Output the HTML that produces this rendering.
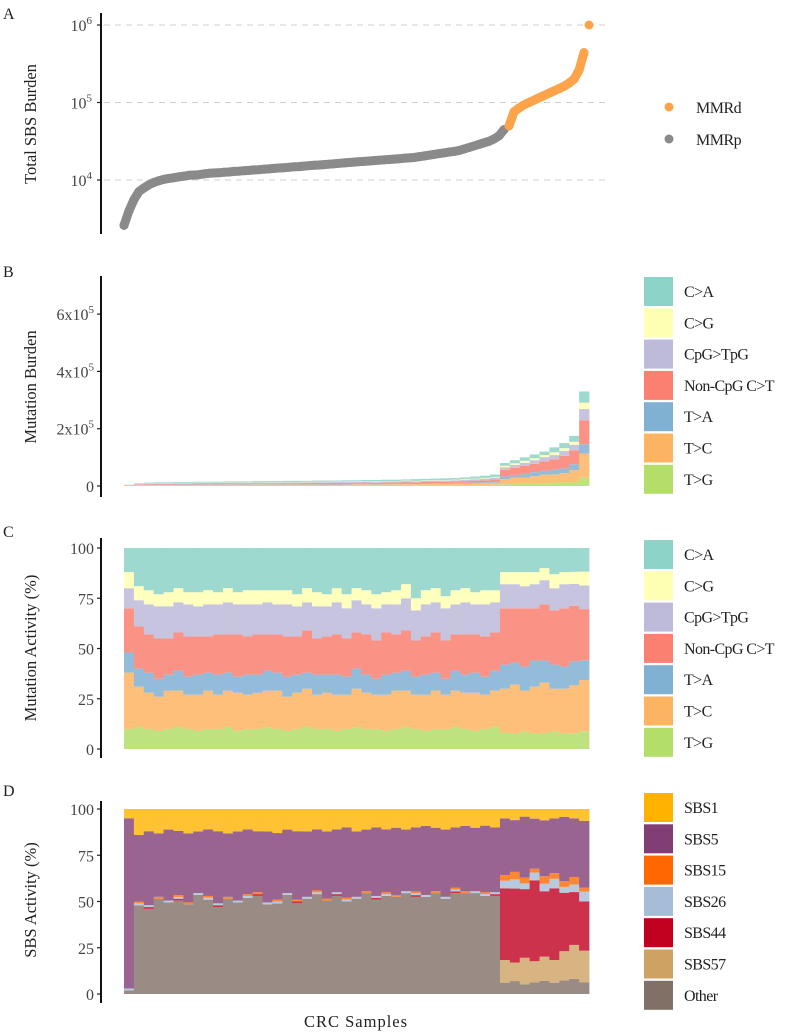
<!DOCTYPE html>
<html><head><meta charset="utf-8"><style>
html,body{margin:0;padding:0;background:#fff;}
svg{display:block;font-family:"Liberation Serif",serif;}
</style></head><body>
<svg id="fig" width="787" height="1032" viewBox="0 0 787 1032" xmlns="http://www.w3.org/2000/svg">
<g id="static" fill="#222" font-size="16">
<text x="3" y="19">A</text>
<text x="3" y="277">B</text>
<text x="3" y="537">C</text>
<text x="3" y="796">D</text>
<text transform="translate(36,124) rotate(-90)" text-anchor="middle" font-size="16.5">Total SBS Burden</text>
<text transform="translate(36,387) rotate(-90)" text-anchor="middle" font-size="16.5">Mutation Burden</text>
<text transform="translate(36,648) rotate(-90)" text-anchor="middle" font-size="16.5">Mutation Activity (%)</text>
<text transform="translate(36,900) rotate(-90)" text-anchor="middle" font-size="16.5">SBS Activity (%)</text>
<text x="356" y="1027" text-anchor="middle" font-size="16.5" letter-spacing="1">CRC Samples</text>
</g>
<g id="dyn"></g>
</svg>
<script>
// Panel A: sorted total SBS burden (thousands)
const burdenK = [2.6,4.0,5.6,7.1,7.9,8.7,9.3,9.8,10.2,10.5,10.7,11.0,11.2,11.5,11.6,11.7,12.0,12.2,12.3,12.4,
12.6,12.7,12.9,13.0,13.2,13.3,13.5,13.6,13.8,13.9,14.1,14.3,14.4,14.6,14.8,14.9,15.1,15.3,15.5,15.6,15.8,
16.0,16.2,16.4,16.6,16.8,17.0,17.2,17.4,17.6,17.8,18.0,18.2,18.4,18.6,18.8,19.1,19.3,19.5,
20.0,20.4,20.9,21.4,21.9,22.4,22.9,23.4,24.0,25.1,
26.3,27.5,28.8,30.2,31.6,33.9,37.2,44.7,
50.1,75.9,85.1,93.3,100,107,115,123,132,141,151,162,178,200,260,440,1000];
const burdenGroup = burdenK.map((v,i)=> i>=77 ? 'MMRd' : 'MMRp');
const aTickLabels = ['4','5','6'];
// Panel B: total mutation burden per sample (thousands)
const mutTotalK = [5,10,12,13,13,14,14,15,15,15,16,16,16,17,17,17,18,18,18,19,19,19,20,20,21,21,22,22,23,24,25,26,27,28,30,33,36,40,
80,90,100,110,120,135,150,175,330];
const bTickLabels = ['0','2','4','6'];
// Panel C: mutation class activity (%)
const mutClasses = ['C>A','C>G','CpG>TpG','Non-CpG C>T','T>A','T>C','T>G'];
const pctCA = [12,19,21,23,22,20,22,22,21,22,20,22,21,21,21,21,21,23,20,22,23,20,23,20,21,23,22,21,18,25,21,20,24,21,20,22,21,21,12,12,12,12,10,13,12,12,12];
const pctCG = [8,7,7,6,7,7,6,7,7,6,7,6,7,7,6,7,7,6,7,7,6,7,7,6,7,7,6,7,7,6,7,7,6,7,7,6,7,6,6,6,7,6,6,7,6,6,7];
const pctCpG = [10,13,15,16,16,15,16,15,16,15,16,15,16,15,16,15,16,15,14,16,15,16,15,16,15,16,14,15,16,15,16,15,16,15,16,15,16,15,12,12,11,12,12,11,12,11,12];
const pctNonCpG = [22,21,19,20,18,19,20,19,18,20,19,21,19,20,18,19,20,19,21,18,19,20,19,18,20,19,21,19,20,18,19,20,19,18,20,19,20,19,28,27,29,26,28,27,29,28,26];
const pctTA = [10,9,10,9,8,10,9,10,9,10,9,8,10,9,10,9,10,9,8,10,9,10,9,10,9,8,10,9,10,9,10,9,8,10,9,10,9,10,12,11,12,13,11,12,11,12,10];
const pctTC = [28,20,18,17,19,18,17,18,19,17,18,19,17,18,18,19,17,18,19,17,18,18,17,19,18,17,18,19,18,17,18,19,17,18,18,19,17,18,22,24,20,23,25,21,22,24,26];
const pctTG = [10,11,10,9,10,11,10,9,10,10,11,9,10,10,11,10,9,10,11,10,10,9,10,11,10,10,9,10,11,10,9,10,10,11,10,9,10,11,8,8,9,8,8,9,8,8,9];
const cTickLabels = ['0','25','50','75','100'];
// Panel D: SBS signature activity (%)
const sigNames = ['SBS1','SBS5','SBS15','SBS26','SBS44','SBS57','Other'];
const sbs1 = [5,14,12,13,11,12,13,12,11,12,13,12,11,12,12,13,11,12,12,11,12,11,10,12,11,10,11,10,11,10,9,10,11,10,9,10,9,10,5,6,4,5,6,5,4,5,6];
const sbs5 = [92,36,40,34,38,35,37,33,36,39,34,37,35,33,38,36,34,37,35,33,36,34,38,35,33,37,34,36,33,35,37,34,36,33,35,34,36,35,30,28,32,26,30,29,33,31,34];
const sbs15 = [0,1,0,1,0,1,1,0,1,0,1,0,1,1,0,1,0,1,0,1,1,0,1,0,1,0,1,1,0,1,0,1,0,1,1,0,1,0,3,4,3,2,4,3,3,4,2];
const sbs26 = [1,1,1,0,1,1,0,1,1,1,0,1,1,0,1,1,1,0,1,1,0,1,1,1,0,1,1,0,1,1,1,0,1,1,0,1,1,1,4,5,3,4,4,5,3,4,5];
const sbs44 = [0,0,1,0,0,1,0,0,0,1,0,0,0,1,0,0,0,1,0,0,0,1,0,0,0,1,0,0,0,1,0,0,0,1,0,0,0,1,38,40,36,42,35,38,30,28,25];
const sbs57 = [0,0,0,0,0,0,0,0,0,0,0,0,0,0,0,0,0,0,0,0,0,0,0,0,0,0,0,0,0,0,0,0,0,0,0,0,0,0,12,10,14,11,13,12,15,18,16];
const sbsOther = [2,48,46,51,49,51,48,53,51,47,51,49,52,53,48,49,53,49,51,54,50,53,50,51,54,51,53,52,54,53,52,54,51,55,54,54,53,53,6,7,5,6,7,6,7,8,6];

const NS='http://www.w3.org/2000/svg';
const dyn=document.getElementById('dyn');
function mk(tag,attrs,parent){const e=document.createElementNS(NS,tag);for(const k in attrs)e.setAttribute(k,attrs[k]);(parent||dyn).appendChild(e);return e;}
const X0=124,X1=589;
// ---------- Panel A ----------
const yA=v=>180-(Math.log10(v*1000)-4)*77.5;
const xA=i=>X0+i*(X1-X0)/(burdenK.length-1);
aTickLabels.forEach(p=>{
  const y=yA(Math.pow(10,+p)/1000);
  const g=mk('line',{x1:104,x2:610,y1:y,y2:y,stroke:'#cfcfcf','stroke-dasharray':'6,5','stroke-width':1});
  
  
  const tk=mk('line',{x1:97,x2:101,y1:y,y2:y,stroke:'#222','stroke-width':1.2});
  
  
  const t=mk('text',{x:92,y:y+6,'text-anchor':'end','font-size':16,fill:'#444'});
  
  
  t.textContent='10';
  const s=mk('tspan',{dy:-7,'font-size':11},t);s.textContent=p;
});
const axA=mk('line',{x1:101,x2:101,y1:13,y2:234,stroke:'#111','stroke-width':2});


// continuous dense trace through points (excluding top outlier)
['MMRp','MMRd'].forEach(grp=>{
  const pts=[];
  burdenK.forEach((v,i)=>{ if(burdenGroup[i]===grp && v<900) pts.push(xA(i).toFixed(1)+','+yA(v).toFixed(1)); });
  const pl=mk('polyline',{points:pts.join(' '),fill:'none',stroke:grp==='MMRd'?'#fda34a':'#8a8a8a','stroke-width':9,'stroke-linecap':'round','stroke-linejoin':'round'});
  
  
});
burdenK.forEach((v,i)=>{
  const c=mk('circle',{cx:xA(i),cy:yA(v),r:4.5,fill:burdenGroup[i]==='MMRd'?'#fda34a':'#8a8a8a'});
  
  
});
[['MMRd','#fda34a',107],['MMRp','#8a8a8a',139]].forEach(([n,col,y])=>{
  const c=mk('circle',{cx:669,cy:y,r:4.5,fill:col});
  
  
  const t=mk('text',{x:696,y:y+6,'font-size':16,fill:'#222','letter-spacing':'-0.5'});
  
  
  t.textContent=n;
});
// ---------- shared ----------
const bw=(X1-X0)/mutTotalK.length;
const mutCols=['#8dd3c7','#ffffb3','#bebada','#fb8072','#80b1d3','#fdb462','#b3de69'];
const mutSeries=[pctCA,pctCG,pctCpG,pctNonCpG,pctTA,pctTC,pctTG];
function legend(names,cols,top,prefix){
  names.forEach((n,k)=>{
    const y=top+k*31.3;
    const r=mk('rect',{x:644,y:y,width:29,height:29,fill:cols[k]});
    
    
    const t=mk('text',{x:684,y:y+20,'font-size':16,fill:'#222','letter-spacing':'-0.6'});
    
    
    t.textContent=n;
  });
}
function yaxis(top,bot,name){
  const a=mk('line',{x1:101,x2:101,y1:top,y2:bot,stroke:'#111','stroke-width':2});
  
  
}
function grp(op,name){const g=mk('g',{opacity:op});return g;}
// ---------- Panel B ----------
const yB=v=>486-v/200*57.3;
bTickLabels.forEach(p=>{
  const y=yB(+p*100);
  const tk=mk('line',{x1:97,x2:101,y1:y,y2:y,stroke:'#222','stroke-width':1.2});
  
  
  const t=mk('text',{x:94,y:y+6,'text-anchor':'end','font-size':16,fill:'#444'});
  
  
  if(p==='0'){t.textContent='0';}else{t.textContent=p+'x10';const s=mk('tspan',{dy:-7,'font-size':11},t);s.textContent='5';}
});
yaxis(276,497,'y-axis-b');
const gB=grp(0.85,'stacked-area-b');
mutTotalK.forEach((tot,i)=>{
  let sum=0;mutSeries.forEach(s=>sum+=s[i]);
  let base=0;
  for(let k=mutSeries.length-1;k>=0;k--){
    const v=tot*mutSeries[k][i]/sum;
    const r=mk('rect',{x:X0+i*bw,y:yB(base+v),width:bw+0.4,height:Math.max(0,yB(base)-yB(base+v)),fill:mutCols[k]},gB);
    
    
    base+=v;
  }
});
legend(mutClasses,mutCols,277,'b');
// ---------- Panel C ----------
const yC=p=>749-p*2.01;
cTickLabels.forEach(p=>{
  const y=yC(+p);
  const tk=mk('line',{x1:97,x2:101,y1:y,y2:y,stroke:'#222','stroke-width':1.2});
  
  
  const t=mk('text',{x:94,y:y+6,'text-anchor':'end','font-size':16,fill:'#444'});
  
  
  t.textContent=p;
});
yaxis(538,758,'y-axis-c');
const gC=grp(0.85,'stacked-bars-c');
pctCA.forEach((_,i)=>{
  let sum=0;mutSeries.forEach(s=>sum+=s[i]);
  let base=0;
  for(let k=mutSeries.length-1;k>=0;k--){
    const v=100*mutSeries[k][i]/sum;
    const r=mk('rect',{x:X0+i*bw,y:yC(base+v),width:bw+0.4,height:yC(base)-yC(base+v),fill:mutCols[k]},gC);
    
    
    base+=v;
  }
});
legend(mutClasses,mutCols,540,'c');
// ---------- Panel D ----------
const sigCols=['#ffb300','#803e75','#ff6800','#a6bdd7','#c10020','#cea262','#817066'];
const sigSeries=[sbs1,sbs5,sbs15,sbs26,sbs44,sbs57,sbsOther];
const yD=p=>994-p*1.85;
cTickLabels.forEach(p=>{
  const y=yD(+p);
  const tk=mk('line',{x1:97,x2:101,y1:y,y2:y,stroke:'#222','stroke-width':1.2});
  
  
  const t=mk('text',{x:94,y:y+6,'text-anchor':'end','font-size':16,fill:'#444'});
  
  
  t.textContent=p;
});
yaxis(801,1003,'y-axis-d');
const gD=grp(0.8,'stacked-bars-d');
sbs1.forEach((_,i)=>{
  let sum=0;sigSeries.forEach(s=>sum+=s[i]);
  let base=0;
  for(let k=sigSeries.length-1;k>=0;k--){
    const v=100*sigSeries[k][i]/sum;
    const r=mk('rect',{x:X0+i*bw,y:yD(base+v),width:bw+0.4,height:yD(base)-yD(base+v),fill:sigCols[k]},gD);
    
    
    base+=v;
  }
});
legend(sigNames,sigCols,793,'d');
</script>
</body></html>
